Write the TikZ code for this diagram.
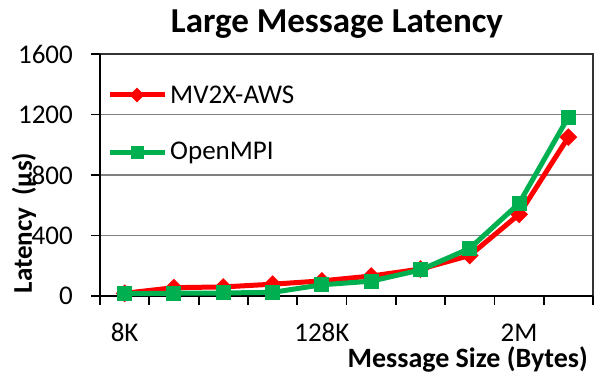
\documentclass[tikz,border=0pt]{standalone}
\usepackage{fontspec}
\setmainfont{Carlito}
\usetikzlibrary{shapes.geometric}
\definecolor{mvred}{RGB}{255,0,0}
\definecolor{ompigreen}{RGB}{0,176,80}
\tikzset{
	redmark/.style={diamond, fill=mvred, inner sep=0pt, minimum size=18pt},
	greenmark/.style={rectangle, fill=ompigreen, inner sep=0pt, minimum size=15pt},
	redline/.style={draw=mvred, line width=5pt, line join=round},
	greenline/.style={draw=ompigreen, line width=5pt, line join=round},
	ticklabel/.style={font=\fontsize{27}{30}\selectfont, inner sep=0pt},
	gridline/.style={draw=gray, line width=1.2pt},
}
\begin{document}
\begin{tikzpicture}[x=1pt,y=1pt]
	\useasboundingbox (0,0) rectangle (594,374);
	\node[font=\bfseries\fontsize{35}{40}\selectfont, anchor=base, inner sep=0pt](title) at (337,341){Large Message Latency};

	\begin{scope}[shift={(100,78)}, x=49.3pt, y=0.15125pt]
		% grid and frame
		\draw[gridline] (0,400) -- (10,400);
		\draw[gridline] (0,800) -- (10,800);
		\draw[gridline] (0,1200) -- (10,1200);
		\draw[black!80, line width=1.2pt] (0,1600) -- (10,1600) -- (10,0);
		\draw[line width=1.8pt] (0,1600) -- (0,0) -- (10,0);

		% ticks
		\draw[line width=1.8pt] (0,0) -- ++(-9pt,0) (0,400) -- ++(-9pt,0) (0,800) -- ++(-9pt,0) (0,1200) -- ++(-9pt,0) (0,1600) -- ++(-9pt,0);
		\draw[line width=1.8pt] (0,0) -- ++(0,-9pt) (1,0) -- ++(0,-9pt) (2,0) -- ++(0,-9pt) (3,0) -- ++(0,-9pt) (4,0) -- ++(0,-9pt) (5,0) -- ++(0,-9pt)
			(6,0) -- ++(0,-9pt) (7,0) -- ++(0,-9pt) (8,0) -- ++(0,-9pt) (9,0) -- ++(0,-9pt) (10,0) -- ++(0,-9pt);

		\node[ticklabel, anchor=east, xshift=-27pt](y0) at (0,0){0};
		\node[ticklabel, anchor=east, xshift=-27pt](y400) at (0,400){400};
		\node[ticklabel, anchor=east, xshift=-27pt](y800) at (0,800){800};
		\node[ticklabel, anchor=east, xshift=-27pt](y1200) at (0,1200){1200};
		\node[ticklabel, anchor=east, xshift=-27pt](y1600) at (0,1600){1600};

		\node[ticklabel, anchor=base, yshift=-46pt](x8k) at (0.5,0){8K};
		\node[ticklabel, anchor=base, yshift=-46pt](x128k) at (4.5,0){128K};
		\node[ticklabel, anchor=base, yshift=-46pt](x2m) at (8.5,0){2M};

		% MV2X-AWS
		\coordinate (r1) at (0.5,18);
		\coordinate (r2) at (1.5,55);
		\coordinate (r3) at (2.5,60);
		\coordinate (r4) at (3.5,78);
		\coordinate (r5) at (4.5,100);
		\coordinate (r6) at (5.5,132);
		\coordinate (r7) at (6.5,178);
		\coordinate (r8) at (7.5,268);
		\coordinate (r9) at (8.5,540);
		\coordinate (r10) at (9.5,1050);
		\draw[redline] (r1) -- (r2) -- (r3) -- (r4) -- (r5) -- (r6) -- (r7) -- (r8) -- (r9) -- (r10);
		\node[redmark](rm1) at (r1){};
		\node[redmark](rm2) at (r2){};
		\node[redmark](rm3) at (r3){};
		\node[redmark](rm4) at (r4){};
		\node[redmark](rm5) at (r5){};
		\node[redmark](rm6) at (r6){};
		\node[redmark](rm7) at (r7){};
		\node[redmark](rm8) at (r8){};
		\node[redmark](rm9) at (r9){};
		\node[redmark](rm10) at (r10){};

		% OpenMPI
		\coordinate (g1) at (0.5,15);
		\coordinate (g2) at (1.5,18);
		\coordinate (g3) at (2.5,20);
		\coordinate (g4) at (3.5,24);
		\coordinate (g5) at (4.5,74);
		\coordinate (g6) at (5.5,98);
		\coordinate (g7) at (6.5,172);
		\coordinate (g8) at (7.5,315);
		\coordinate (g9) at (8.5,612);
		\coordinate (g10) at (9.5,1183);
		\draw[greenline] (g1) -- (g2) -- (g3) -- (g4) -- (g5) -- (g6) -- (g7) -- (g8) -- (g9) -- (g10);
		\node[greenmark](gm1) at (g1){};
		\node[greenmark](gm2) at (g2){};
		\node[greenmark](gm3) at (g3){};
		\node[greenmark](gm4) at (g4){};
		\node[greenmark](gm5) at (g5){};
		\node[greenmark](gm6) at (g6){};
		\node[greenmark](gm7) at (g7){};
		\node[greenmark](gm8) at (g8){};
		\node[greenmark](gm9) at (g9){};
		\node[greenmark](gm10) at (g10){};
	\end{scope}

	% legend
	\coordinate (lr1) at (110,279);
	\coordinate (lr2) at (165,279);
	\draw[redline] (lr1) -- (lr2);
	\node[redmark, minimum size=15pt](lrm) at (137,279){};
	\node[ticklabel, anchor=west](lrtext) at (170,279){MV2X-AWS};
	\coordinate (lg1) at (110,221);
	\coordinate (lg2) at (165,221);
	\draw[greenline] (lg1) -- (lg2);
	\node[greenmark, minimum size=13pt](lgm) at (137,221){};
	\node[ticklabel, anchor=west](lgtext) at (170,221){OpenMPI};

	% axis titles
	\node[font=\bfseries\fontsize{27}{30}\selectfont, rotate=90](ytitle) at (24,151){Latency~~(µs)};
	\node[font=\bfseries\fontsize{28}{30}\selectfont, anchor=base east, inner sep=0pt](xtitle) at (588,6){Message Size (Bytes)};
\end{tikzpicture}
\end{document}
